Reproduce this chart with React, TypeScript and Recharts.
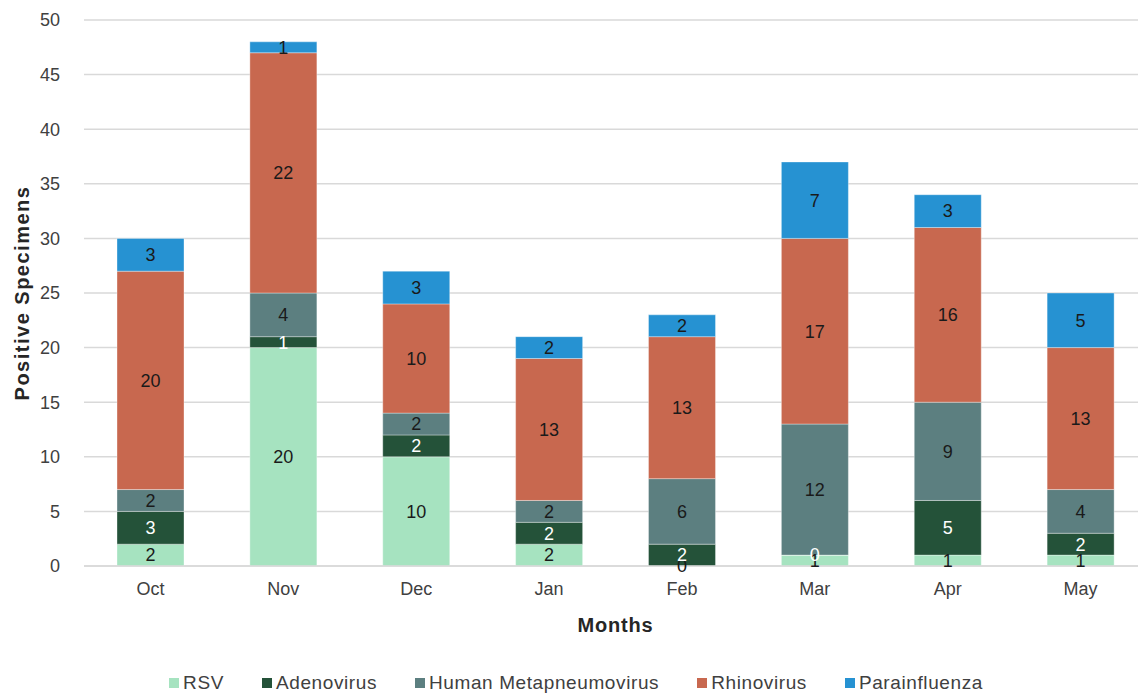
import {
  BarChart, Bar, XAxis, YAxis, CartesianGrid, LabelList, Label,
} from "recharts";

const months = ["Oct", "Nov", "Dec", "Jan", "Feb", "Mar", "Apr", "May"];
const rsv = [2, 20, 10, 2, 0, 1, 1, 1];
const adenovirus = [3, 1, 2, 2, 2, 0, 5, 2];
const hmpv = [2, 4, 2, 2, 6, 12, 9, 4];
const rhinovirus = [20, 22, 10, 13, 13, 17, 16, 13];
const parainfluenza = [3, 1, 3, 2, 2, 7, 3, 5];
const yTicks = [0, 5, 10, 15, 20, 25, 30, 35, 40, 45, 50];

const SERIES = [
  { key: "rsv", name: "RSV", color: "#a6e3c0", label: "#1a1a1a" },
  { key: "adeno", name: "Adenovirus", color: "#245239", label: "#ffffff" },
  { key: "hmpv", name: "Human Metapneumovirus", color: "#5c7f80", label: "#1a1a1a" },
  { key: "rhino", name: "Rhinovirus", color: "#c8684f", label: "#1a1a1a" },
  { key: "para", name: "Parainfluenza", color: "#2692d2", label: "#1a1a1a" },
];

const data = months.map((m, i) => ({
  month: m,
  rsv: rsv[i],
  adeno: adenovirus[i],
  hmpv: hmpv[i],
  rhino: rhinovirus[i],
  para: parainfluenza[i],
}));

const FONT = "'Liberation Sans', Arial, sans-serif";

// legend sits under the chart as plain html
function LegendRow() {
  return (
    <div style={{
      position: "absolute", left: 0, top: 672, width: 1138, display: "flex",
      justifyContent: "center", gap: 38, fontFamily: FONT, fontSize: 19,
      color: "#404040", paddingLeft: 14, boxSizing: "border-box",
    }}>
      {SERIES.map((s) => (
        <div key={s.key} style={{ display: "flex", alignItems: "center", gap: 4 }}>
          <span style={{ width: 10, height: 10, background: s.color, display: "inline-block" }} />
          <span style={{ letterSpacing: 0.6 }}>{s.name}</span>
        </div>
      ))}
    </div>
  );
}

export default function App() {
  return (
    <div style={{ position: "absolute", left: 0, top: 0, width: 1138, height: 696, overflow: "hidden", background: "#fff" }}>
      <BarChart width={1150} height={696} data={data}
        margin={{ top: 20, right: 3, left: 0, bottom: 72 }}>
        <CartesianGrid vertical={false} stroke="#d9d9d9" strokeWidth={1.5} />
        <XAxis dataKey="month" height={58} axisLine={{ stroke: "#d9d9d9", strokeWidth: 1.5 }} tickLine={false}
          tick={{ fill: "#404040", fontSize: 18, fontFamily: FONT }} tickMargin={10}>
          <Label value="Months" position="insideTop" offset={52}
            style={{ fill: "#262626", fontSize: 20, fontWeight: 700, fontFamily: FONT, letterSpacing: 0.8 }} />
        </XAxis>
        <YAxis width={84} domain={[0, 50]} ticks={yTicks} axisLine={false} tickLine={false}
          tick={{ fill: "#404040", fontSize: 18, fontFamily: FONT }} tickMargin={18}
          label={{
            content: (props: any) => {
              const vb = props.viewBox;
              const cy = vb.y + vb.height / 2;
              return (
                <text x={22} y={cy} transform={`rotate(-90 22 ${cy})`} textAnchor="middle"
                  dominantBaseline="central" fill="#262626" fontSize={20} fontWeight={700}
                  fontFamily={FONT} letterSpacing={1.5}>
                  Positive Specimens
                </text>
              );
            },
          }} />
        {SERIES.map((s) => (
          <Bar key={s.key} dataKey={s.key} name={s.name} stackId="a" fill={s.color}
            barSize={67} minPointSize={0.01} stroke="#ffffff" strokeOpacity={0.35} strokeWidth={1}
            isAnimationActive={false}>
            <LabelList dataKey={s.key} position="center" fill={s.label}
              style={{ fontSize: 18, fontFamily: FONT }} />
          </Bar>
        ))}
      </BarChart>
      <LegendRow />
    </div>
  );
}
